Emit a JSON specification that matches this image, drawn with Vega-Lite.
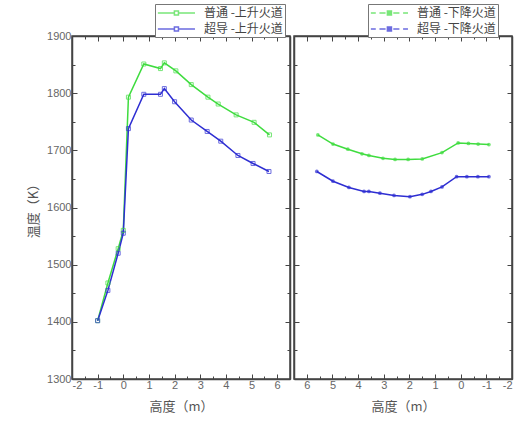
{
  "$schema": "https://vega.github.io/schema/vega-lite/v6.json",
  "padding": {"left": 26, "top": 2, "right": 5, "bottom": 5},
  "background": "white",
  "datasets": {
    "left": [
      {"h": -1, "t": 1402, "s": "普通 -上升火道"},
      {"h": -0.6, "t": 1468, "s": "普通 -上升火道"},
      {"h": -0.2, "t": 1528, "s": "普通 -上升火道"},
      {"h": 0, "t": 1560, "s": "普通 -上升火道"},
      {"h": 0.2, "t": 1793, "s": "普通 -上升火道"},
      {"h": 0.8, "t": 1851, "s": "普通 -上升火道"},
      {"h": 1.45, "t": 1843, "s": "普通 -上升火道"},
      {"h": 1.6, "t": 1853, "s": "普通 -上升火道"},
      {"h": 2.05, "t": 1839, "s": "普通 -上升火道"},
      {"h": 2.65, "t": 1815, "s": "普通 -上升火道"},
      {"h": 3.3, "t": 1793, "s": "普通 -上升火道"},
      {"h": 3.7, "t": 1781, "s": "普通 -上升火道"},
      {"h": 4.4, "t": 1762, "s": "普通 -上升火道"},
      {"h": 5.1, "t": 1749, "s": "普通 -上升火道"},
      {"h": 5.7, "t": 1727, "s": "普通 -上升火道"},
      {"h": -1, "t": 1402, "s": "超导 -上升火道"},
      {"h": -0.6, "t": 1455, "s": "超导 -上升火道"},
      {"h": -0.2, "t": 1520, "s": "超导 -上升火道"},
      {"h": 0, "t": 1555, "s": "超导 -上升火道"},
      {"h": 0.2, "t": 1738, "s": "超导 -上升火道"},
      {"h": 0.8, "t": 1798, "s": "超导 -上升火道"},
      {"h": 1.45, "t": 1798, "s": "超导 -上升火道"},
      {"h": 1.6, "t": 1808, "s": "超导 -上升火道"},
      {"h": 2.0, "t": 1785, "s": "超导 -上升火道"},
      {"h": 2.65, "t": 1753, "s": "超导 -上升火道"},
      {"h": 3.27, "t": 1733, "s": "超导 -上升火道"},
      {"h": 3.8, "t": 1716, "s": "超导 -上升火道"},
      {"h": 4.47, "t": 1691, "s": "超导 -上升火道"},
      {"h": 5.06, "t": 1677, "s": "超导 -上升火道"},
      {"h": 5.68, "t": 1663, "s": "超导 -上升火道"}
    ],
    "right": [
      {"h": 5.57, "t": 1727, "s": "普通 -下降火道"},
      {"h": 4.98, "t": 1711, "s": "普通 -下降火道"},
      {"h": 4.4, "t": 1702, "s": "普通 -下降火道"},
      {"h": 3.85, "t": 1694, "s": "普通 -下降火道"},
      {"h": 3.58, "t": 1691, "s": "普通 -下降火道"},
      {"h": 3.03, "t": 1686, "s": "普通 -下降火道"},
      {"h": 2.56, "t": 1684, "s": "普通 -下降火道"},
      {"h": 2.05, "t": 1684, "s": "普通 -下降火道"},
      {"h": 1.5, "t": 1685, "s": "普通 -下降火道"},
      {"h": 0.73, "t": 1696, "s": "普通 -下降火道"},
      {"h": 0.1, "t": 1713, "s": "普通 -下降火道"},
      {"h": -0.3, "t": 1712, "s": "普通 -下降火道"},
      {"h": -0.68, "t": 1711, "s": "普通 -下降火道"},
      {"h": -1.1, "t": 1710, "s": "普通 -下降火道"},
      {"h": 5.61, "t": 1663, "s": "超导 -下降火道"},
      {"h": 4.98, "t": 1646, "s": "超导 -下降火道"},
      {"h": 4.36, "t": 1635, "s": "超导 -下降火道"},
      {"h": 3.77, "t": 1628, "s": "超导 -下降火道"},
      {"h": 3.58, "t": 1628, "s": "超导 -下降火道"},
      {"h": 3.15, "t": 1625, "s": "超导 -下降火道"},
      {"h": 2.6, "t": 1621, "s": "超导 -下降火道"},
      {"h": 1.98, "t": 1619, "s": "超导 -下降火道"},
      {"h": 1.5, "t": 1623, "s": "超导 -下降火道"},
      {"h": 1.16, "t": 1628, "s": "超导 -下降火道"},
      {"h": 0.73, "t": 1636, "s": "超导 -下降火道"},
      {"h": 0.16, "t": 1654, "s": "超导 -下降火道"},
      {"h": -0.24, "t": 1654, "s": "超导 -下降火道"},
      {"h": -0.67, "t": 1654, "s": "超导 -下降火道"},
      {"h": -1.1, "t": 1654, "s": "超导 -下降火道"}
    ]
  },
  "spacing": 0,
  "resolve": {"scale": {"color": "independent"}, "legend": {"color": "independent"}},
  "hconcat": [
    {
      "width": 218,
      "height": 343,
      "data": {"name": "left"},
      "layer": [
        {
          "mark": {"type": "line", "strokeWidth": 1.5},
          "encoding": {
            "x": {"field": "h", "type": "quantitative", "scale": {"domain": [-2, 6.5], "nice": false, "zero": false},
              "axis": {"orient": "bottom", "title": "高度（m）", "values": [-2,-1.5,-1,-0.5,0,0.5,1,1.5,2,2.5,3,3.5,4,4.5,5,5.5,6],
                "labelExpr": "datum.value % 1 == 0 ? toString(datum.value) : ''",
                "tickSize": {"condition": {"test": "datum.value % 1 != 0", "value": -3}, "value": -5}}},
            "y": {"field": "t", "type": "quantitative", "scale": {"domain": [1300, 1900], "nice": false, "zero": false},
              "axis": {"orient": "left", "title": "温度（K）", "values": [1300,1350,1400,1450,1500,1550,1600,1650,1700,1750,1800,1850,1900],
                "labelExpr": "datum.value % 100 == 0 ? toString(datum.value) : ''",
                "tickSize": {"condition": {"test": "datum.value % 100 != 0", "value": -3}, "value": -5}}},
            "color": {"field": "s", "type": "nominal", "scale": {"domain": ["普通 -上升火道", "超导 -上升火道"], "range": ["#3fdc3f", "#2e2ed2"]},
              "legend": {"orient": "none", "legendX": 83, "legendY": -32, "title": null, "strokeColor": "#777", "padding": 2, "fillColor": "white",
                "labelFontSize": 12, "labelFont": "Noto Sans CJK SC", "labelColor": "#444",
                "symbolType": "M-1,0H1.65M2.4,0H5.06M1.7,-0.33H2.36V0.33H1.7Z",
                "symbolSize": 150, "symbolStrokeWidth": 1.5, "symbolFillColor": "transparent", "rowPadding": 3, "labelOffset": 33}}
          }
        },
        {
          "mark": {"type": "point", "shape": "square", "filled": false, "size": 16, "strokeWidth": 1},
          "encoding": {
            "x": {"field": "h", "type": "quantitative",
              "axis": {"orient": "top", "title": null, "labels": false, "values": [-2,-1.5,-1,-0.5,0,0.5,1,1.5,2,2.5,3,3.5,4,4.5,5,5.5,6],
                "tickSize": {"condition": {"test": "datum.value % 1 != 0", "value": -3}, "value": -5}}},
            "y": {"field": "t", "type": "quantitative",
              "axis": {"orient": "right", "title": null, "labels": false, "values": [1300,1350,1400,1450,1500,1550,1600,1650,1700,1750,1800,1850,1900],
                "tickSize": {"condition": {"test": "datum.value % 100 != 0", "value": -3}, "value": -5}}},
            "color": {"field": "s", "type": "nominal"}
          }
        }
      ],
      "resolve": {"axis": {"x": "independent", "y": "independent"}}
    },
    {
      "width": 218,
      "height": 343,
      "data": {"name": "right"},
      "layer": [
        {
          "mark": {"type": "line", "strokeWidth": 1.5},
          "encoding": {
            "x": {"field": "h", "type": "quantitative", "scale": {"domain": [-2, 6.5], "nice": false, "zero": false, "reverse": true},
              "axis": {"orient": "bottom", "title": "高度（m）", "values": [-2,-1.5,-1,-0.5,0,0.5,1,1.5,2,2.5,3,3.5,4,4.5,5,5.5,6],
                "labelExpr": "datum.value % 1 == 0 ? toString(datum.value) : ''",
                "tickSize": {"condition": {"test": "datum.value % 1 != 0", "value": -3}, "value": -5}}},
            "y": {"field": "t", "type": "quantitative", "scale": {"domain": [1300, 1900], "nice": false, "zero": false},
              "axis": {"orient": "left", "title": null, "labels": false, "values": [1300,1350,1400,1450,1500,1550,1600,1650,1700,1750,1800,1850,1900],
                "tickSize": {"condition": {"test": "datum.value % 100 != 0", "value": -3}, "value": -5}}},
            "color": {"field": "s", "type": "nominal", "scale": {"domain": ["普通 -下降火道", "超导 -下降火道"], "range": ["#3fdc3f", "#2e2ed2"]},
              "legend": {"orient": "none", "legendX": 74, "legendY": -32, "title": null, "strokeColor": "#777", "padding": 2, "fillColor": "white",
                "labelFontSize": 12, "labelFont": "Noto Sans CJK SC", "labelColor": "#444",
                "symbolType": "M-1,0H-0.2M0.4,0H1.4M2.66,0H3.66M4.26,0H5.06M1.7,-0.33H2.36V0.33H1.7Z",
                "symbolSize": 150, "symbolStrokeWidth": 1.5, "rowPadding": 3, "labelOffset": 33}}
          }
        },
        {
          "mark": {"type": "point", "shape": "circle", "filled": true, "size": 14},
          "encoding": {
            "x": {"field": "h", "type": "quantitative",
              "axis": {"orient": "top", "title": null, "labels": false, "values": [-2,-1.5,-1,-0.5,0,0.5,1,1.5,2,2.5,3,3.5,4,4.5,5,5.5,6],
                "tickSize": {"condition": {"test": "datum.value % 1 != 0", "value": -3}, "value": -5}}},
            "y": {"field": "t", "type": "quantitative",
              "axis": {"orient": "right", "title": null, "labels": false, "values": [1300,1350,1400,1450,1500,1550,1600,1650,1700,1750,1800,1850,1900],
                "tickSize": {"condition": {"test": "datum.value % 100 != 0", "value": -3}, "value": -5}}},
            "color": {"field": "s", "type": "nominal"}
          }
        }
      ],
      "resolve": {"axis": {"x": "independent", "y": "independent"}}
    }
  ],
  "config": {
    "view": {"stroke": "#444", "strokeWidth": 1.5},
    "axis": {
      "grid": false, "domainColor": "#444", "domainWidth": 1.5, "tickColor": "#444", "tickWidth": 1, "zindex": 1, "ticks": true,
      "labelFont": "Liberation Sans", "labelFontSize": 11, "labelColor": "#666", "labelPadding": 6,
      "titleFont": "Noto Sans CJK SC", "titleFontSize": 13, "titleFontWeight": "normal", "titleColor": "#555"
    },
    "axisX": {"titlePadding": 10, "labelPadding": 5},
    "axisY": {"titlePadding": 6}
  }
}
